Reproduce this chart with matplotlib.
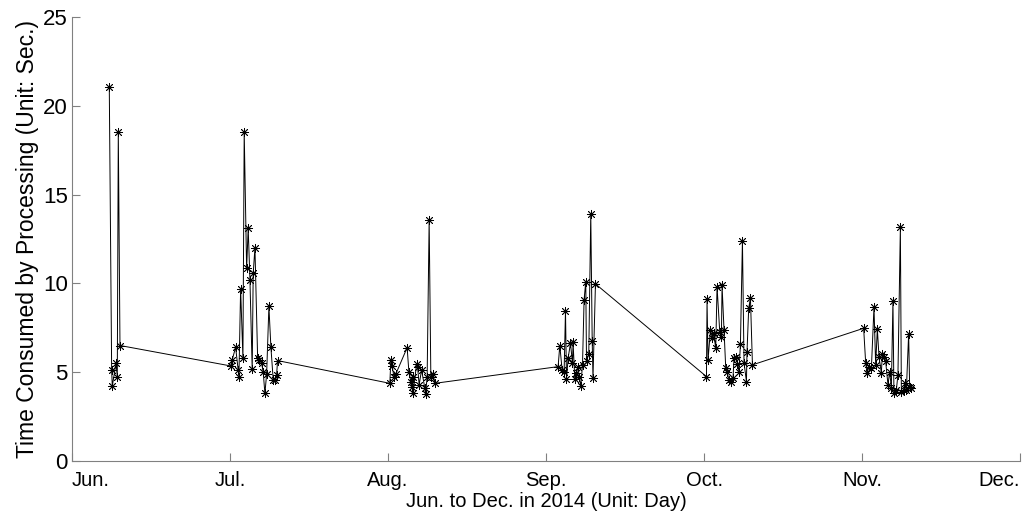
import matplotlib.pyplot as plt
import numpy as np

plt.rcParams['font.family'] = ['Liberation Sans', 'DejaVu Sans']

# day index (0 = Jun. 1, 30 days per tick) and processing time in seconds
days_jun = [7.08, 7.53, 7.65, 8.35, 8.60, 8.79, 9.11]
secs_jun = [21.05, 5.12, 4.2, 5.5, 4.75, 18.55, 6.5]

days_jul = [30.11, 30.42, 31.06, 31.56, 31.69, 32.01, 32.45, 32.69, 33.15, 33.45,
            33.78, 34.21, 34.40, 34.73, 35.24, 35.54, 36.0, 36.30, 36.62, 36.95,
            37.38, 37.76, 38.20, 38.52, 38.84, 39.03]
secs_jul = [5.35, 5.7, 6.4, 5.1, 4.75, 9.67, 5.8, 18.55, 10.85, 13.1,
            10.2, 5.17, 10.57, 12.0, 5.8, 5.7, 5.5, 5.0, 3.8, 4.9,
            8.7, 6.4, 4.56, 4.56, 4.85, 5.65]

days_aug = [60.34, 60.53, 60.78, 61.10, 61.48, 63.62, 63.95, 64.33, 64.46, 64.65,
            64.76, 65.41, 65.60, 65.90, 66.36, 66.98, 67.12, 67.42, 67.80, 68.12,
            68.56, 68.88]
secs_aug = [4.37, 5.7, 5.35, 4.75, 4.9, 6.38, 5.03, 4.47, 4.19, 4.75,
            3.85, 5.44, 5.31, 4.28, 5.13, 4.1, 3.77, 4.75, 13.58, 4.75,
            4.9, 4.37]

days_sep = [92.28, 92.60, 93.04, 93.42, 93.68, 93.87, 94.18, 94.63, 95.01, 95.12,
            95.45, 95.77, 96.07, 96.26, 96.58, 96.91, 97.21, 97.53, 97.67, 98.10,
            98.48, 98.75, 98.90, 99.37]
secs_sep = [5.31, 6.5, 5.13, 5.0, 8.47, 4.6, 5.79, 6.63, 5.5, 6.67,
            4.6, 4.94, 5.31, 4.75, 4.22, 5.41, 9.07, 10.1, 5.6, 6.03,
            13.9, 6.78, 4.66, 9.97]

days_oct = [120.44, 120.55, 120.74, 121.20, 121.58, 121.82, 122.20, 122.45, 122.96, 123.28,
            123.40, 123.78, 124.10, 124.35, 124.72, 125.18, 125.48, 125.67, 126.13, 126.32,
            126.62, 126.89, 127.27, 127.57, 128.03, 128.14, 128.46, 128.79, 129.17]
secs_oct = [4.75, 9.1, 5.69, 7.38, 6.9, 7.18, 6.34, 9.82, 7.28, 7.0,
            9.88, 7.38, 5.22, 5.03, 4.56, 4.47, 4.66, 5.79, 5.88, 5.47,
            5.03, 6.59, 12.41, 5.54, 4.47, 6.16, 8.6, 9.17, 5.41]

days_nov = [150.28, 150.66, 150.91, 151.29, 151.75, 152.24, 152.56, 152.88, 153.19, 153.64,
            153.83, 154.14, 154.46, 154.90, 155.22, 155.54, 155.84, 156.03, 156.49, 156.79,
            157.25, 157.44, 157.88, 158.06, 158.39, 158.82, 159.01, 159.34]
secs_nov = [7.47, 5.54, 4.94, 5.31, 5.22, 8.66, 5.41, 7.44, 5.88, 4.94,
            6.03, 5.88, 5.6, 4.28, 5.03, 4.1, 9.03, 3.85, 4.0, 4.85,
            13.16, 3.9, 4.0, 4.37, 4.0, 7.15, 4.19, 4.1]

month_labels = ['Jun.', 'Jul.', 'Aug.', 'Sep.', 'Oct.', 'Nov.', 'Dec.']

x = np.concatenate([days_jun, days_jul, days_aug, days_sep, days_oct, days_nov])
y = np.concatenate([secs_jun, secs_jul, secs_aug, secs_sep, secs_oct, secs_nov])

fig = plt.figure(figsize=(10.24, 5.15), dpi=100)
ax = fig.add_axes([0.0703, 0.105, 0.926, 0.862])

ax.plot(x, y, color='black', lw=0.7, marker=(8, 2, 0), ms=6.5, mew=0.6,
        mec='black')

ax.set_xlim(0, 180)
ax.set_ylim(0, 25)
ax.set_xticks(np.arange(0, 181, 30))
ax.set_xticklabels(month_labels)
ax.set_yticks(np.arange(0, 26, 5))

for side in ['top', 'right']:
    ax.spines[side].set_visible(False)
for side in ['left', 'bottom']:
    ax.spines[side].set_color('#808080')
ax.tick_params(direction='in', length=6, color='#808080', labelsize=16)
ax.tick_params(axis='y', pad=3)
ax.tick_params(axis='x', labelsize=14.5, pad=7)

labs = ax.get_xticklabels()
labs[0].set_ha('left')
labs[-1].set_ha('right')

ax.set_xlabel('Jun. to Dec. in 2014 (Unit: Day)', fontsize=14.5, labelpad=2)
ax.set_ylabel('Time Consumed by Processing (Unit: Sec.)', fontsize=16.5, labelpad=3)

fig.savefig('out.png', dpi=100)
